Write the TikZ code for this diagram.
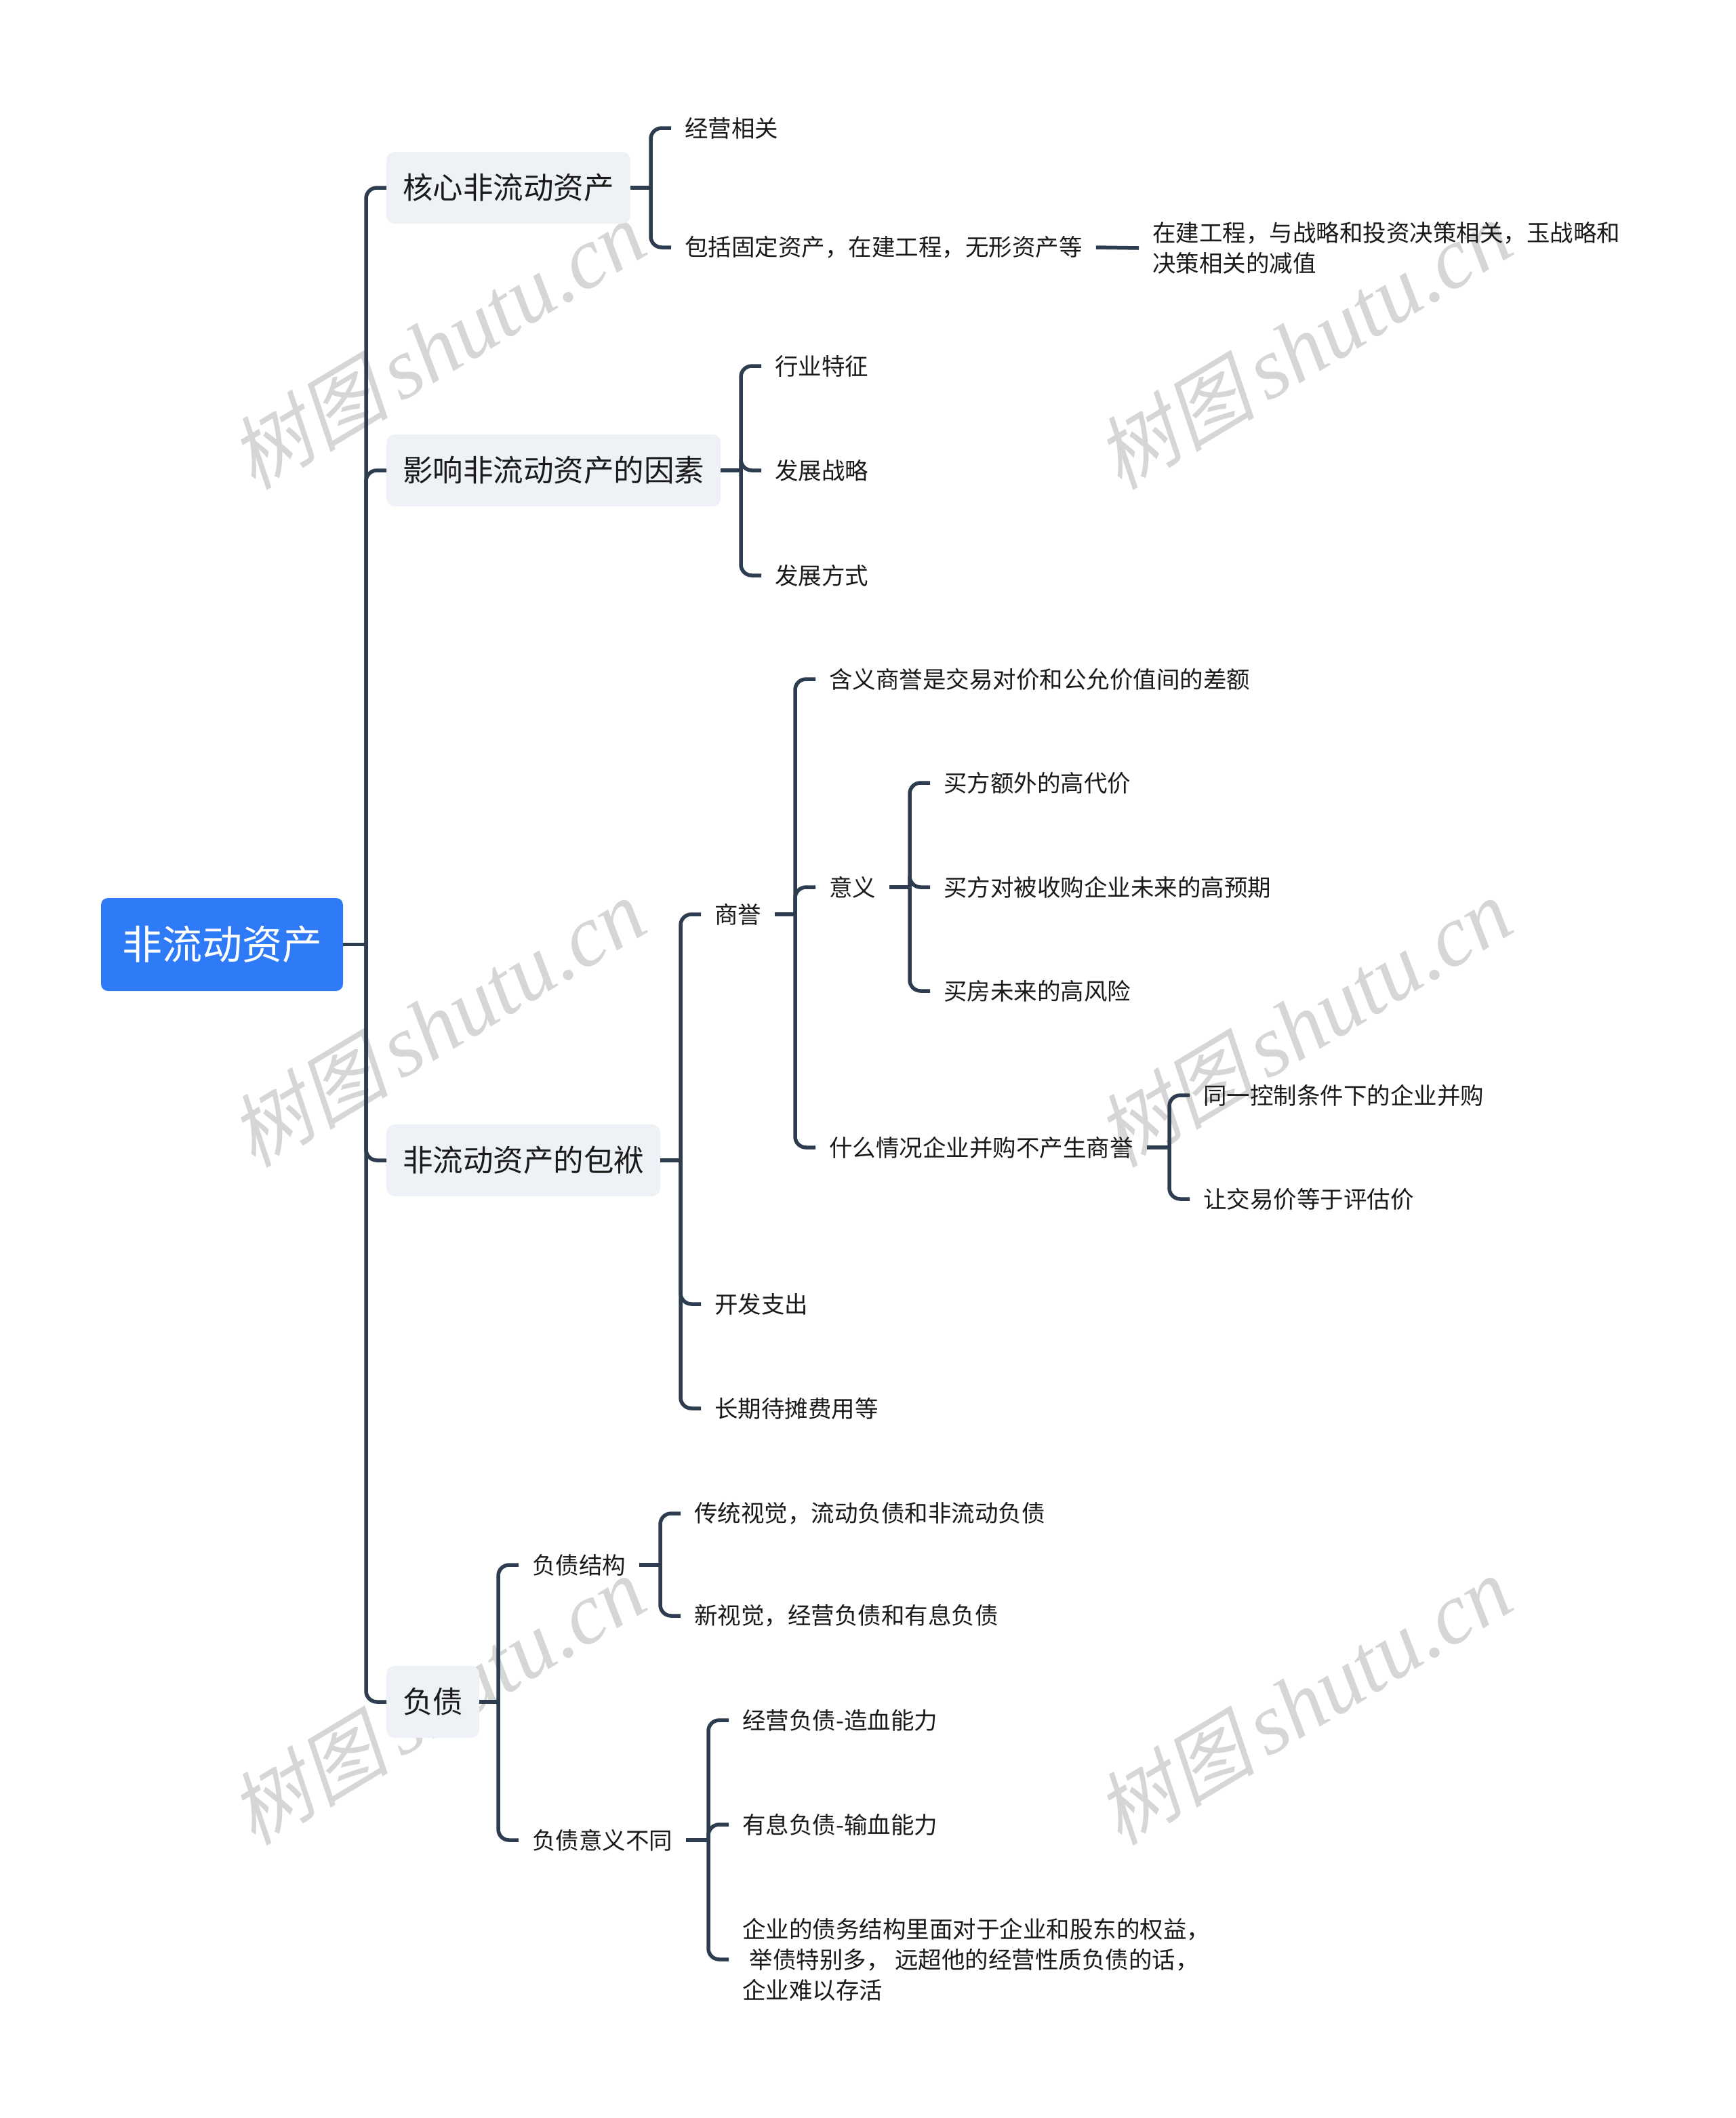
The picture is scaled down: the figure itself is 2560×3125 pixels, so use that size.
\documentclass[tikz,border=0pt]{standalone}
\usepackage{fontspec}
\setmainfont{Noto Sans CJK SC}
\newfontfamily\wmcjk{Noto Sans CJK SC}[FakeSlant=0.22]
\newfontfamily\wmlat{Liberation Serif}
\definecolor{lc}{HTML}{2E3C4F}
\definecolor{tc}{HTML}{1A1A1A}
\definecolor{l1fill}{HTML}{EEF1F5}
\definecolor{rootblue}{HTML}{2F7BF7}
\definecolor{wmgray}{HTML}{D6D6D6}
\newcommand\mmbranch[3]{%
  \coordinate (#1-b) at ([xshift=-30pt]#2.west |- #1.east);
  \draw[conn] (#1.east) -- (#1-b);
  \foreach \c in {#3} {\draw[conn] (#1-b) |- (\c.west);}%
}
\begin{document}
\begin{tikzpicture}[x=1pt,y=-1pt,
  conn/.style={draw=lc, line width=5.5pt, rounded corners=16pt},
  rootnode/.style={fill=rootblue, rounded corners=10pt, minimum width=357pt, minimum height=137pt, inner sep=0pt, font=\fontsize{59}{70}\selectfont, text=white},
  lone/.style={anchor=west, fill=l1fill, rounded corners=12pt, inner xsep=24pt, inner ysep=0pt, minimum height=106pt, font=\fontsize{44.5}{54}\selectfont, text=tc},
  txt/.style={anchor=west, inner xsep=20pt, inner ysep=4pt, font=\fontsize{34.5}{45}\selectfont, text=tc, align=left},
  wm/.style={text=wmgray, rotate=31, inner sep=0pt}
]
\useasboundingbox (0,0) rectangle (2560,3125);
\fill[white] (0,0) rectangle (2560,3125);

% watermarks
\foreach \wx/\wy [count=\i] in {645/510, 1923/510, 645/1510, 1923/1510, 645/2510, 1923/2510}
  \node[wm] (wm\i) at (\wx,\wy) {{\wmcjk\fontsize{118}{120}\selectfont 树图}\hspace{18pt}{\wmlat\itshape\fontsize{128}{130}\selectfont shutu.cn}};

% root and level 1
\node[rootnode] (root) at (327.5,1393.5) {非流动资产};
\node[lone] (A) at (570,277) {核心非流动资产};
\node[lone] (B) at (570,694) {影响非流动资产的因素};
\node[lone] (C) at (570,1712) {非流动资产的包袱};
\node[lone] (D) at (570,2511) {负债};

% A
\node[txt] (A1) at (990,189) {经营相关};
\node[txt] (A2) at (990,365) {包括固定资产，在建工程，无形资产等};
\node[txt] (A21) at (1680,366) {在建工程，与战略和投资决策相关，玉战略和\\决策相关的减值};

% B
\node[txt] (B1) at (1123,540) {行业特征};
\node[txt] (B2) at (1123,694) {发展战略};
\node[txt] (B3) at (1123,849) {发展方式};

% C
\node[txt] (C1) at (1034,1349) {商誉};
\node[txt] (C2) at (1034,1924) {开发支出};
\node[txt] (C3) at (1034,2078) {长期待摊费用等};
\node[txt] (C11) at (1203,1002) {含义商誉是交易对价和公允价值间的差额};
\node[txt] (C12) at (1203,1309) {意义};
\node[txt] (C13) at (1203,1693) {什么情况企业并购不产生商誉};
\node[txt] (C121) at (1372,1155) {买方额外的高代价};
\node[txt] (C122) at (1372,1309) {买方对被收购企业未来的高预期};
\node[txt] (C123) at (1372,1462) {买房未来的高风险};
\node[txt] (C131) at (1755,1616) {同一控制条件下的企业并购};
\node[txt] (C132) at (1755,1769) {让交易价等于评估价};

% D
\node[txt] (D1) at (765,2309) {负债结构};
\node[txt] (D2) at (765,2715) {负债意义不同};
\node[txt] (D11) at (1004,2233) {传统视觉，流动负债和非流动负债};
\node[txt] (D12) at (1004,2384) {新视觉，经营负债和有息负债};
\node[txt] (D21) at (1075,2538) {经营负债-造血能力};
\node[txt] (D22) at (1075,2692) {有息负债-输血能力};
\node[txt] (D23) at (1075,2891) {企业的债务结构里面对于企业和股东的权益，\\\hspace*{0.3em}举债特别多， 远超他的经营性质负债的话，\\企业难以存活};

% connectors
\mmbranch{root}{A}{A,B,C,D}
\mmbranch{A}{A1}{A1,A2}
\draw[conn] (A2.east) -- (A21.west);
\mmbranch{B}{B1}{B1,B2,B3}
\mmbranch{C}{C1}{C1,C2,C3}
\mmbranch{C1}{C11}{C11,C12,C13}
\mmbranch{C12}{C121}{C121,C122,C123}
\mmbranch{C13}{C131}{C131,C132}
\mmbranch{D}{D1}{D1,D2}
\mmbranch{D1}{D11}{D11,D12}
\mmbranch{D2}{D21}{D21,D22,D23}
\end{tikzpicture}
\end{document}
